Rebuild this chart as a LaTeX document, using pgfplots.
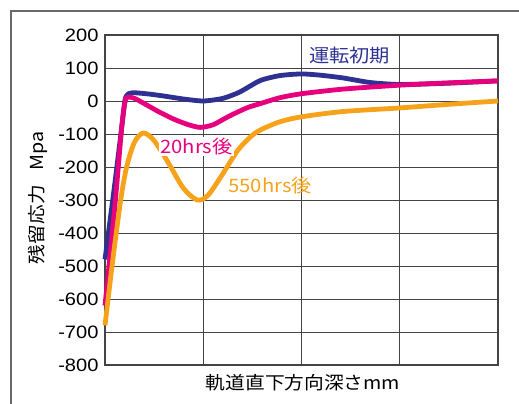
\documentclass[border=0pt]{standalone}
\usepackage{fontspec}
\usepackage{pgfplots}
\pgfplotsset{compat=1.18}
\setmainfont{Liberation Sans}[FakeStretch=1.12]
\newfontfamily\jp{Noto Sans CJK JP}[FakeStretch=1.1]
\definecolor{navyc}{HTML}{2E3192}
\definecolor{pinkc}{HTML}{E6007E}
\definecolor{orangec}{HTML}{F7A21B}
\definecolor{gridc}{HTML}{444444}
\begin{document}
\begin{tikzpicture}[x=1bp,y=1bp]
\useasboundingbox (-105,-38) rectangle (414,365);
\draw[gridc!80,line width=1.3bp] (-94,-60) -- (-94,354) -- (440,354);
\begin{axis}[
  at={(0,0)}, anchor=south west,
  scale only axis, width=393bp, height=330bp,
  xmin=0, xmax=4, ymin=-800, ymax=200,
  xtick={1,2,3}, xticklabels={},
  ytick={-800,-700,...,200},
  major tick length=0pt,
  grid=major,
  major grid style={gridc, line width=0.9bp},
  axis line style={gridc, line width=1.1bp},
  tick label style={font=\fontsize{18}{20}\selectfont, text=black},
  /pgf/number format/assume math mode=true,
  yticklabel style={xshift=-3bp},
  clip=false,
]
\addplot[navyc, line width=4.8bp, smooth, tension=0.4] coordinates {
(0,-480) (0.10,-250) (0.17,-80) (0.205,5) (0.24,22) (0.30,25) (0.45,21) (0.6,15) (0.8,6) (1.0,0) (1.2,8) (1.37,27) (1.58,62) (1.78,77) (2.0,82) (2.2,78) (2.42,70) (2.7,56) (3.0,50) (3.5,54) (4.0,61)
};
\addplot[pinkc, line width=4.8bp, smooth, tension=0.4] coordinates {
(0,-620) (0.1,-320) (0.17,-80) (0.205,0) (0.235,12) (0.3,8) (0.4,-8) (0.55,-33) (0.7,-55) (0.85,-72) (0.97,-80) (1.1,-72) (1.27,-45) (1.45,-20) (1.58,-8) (1.78,10) (2.0,22) (2.42,36) (3.0,48) (3.5,55) (4.0,61)
};
\addplot[orangec, line width=4.8bp, smooth, tension=0.5] coordinates {
(0,-680) (0.08,-480) (0.16,-300) (0.22,-200) (0.3,-125) (0.39,-97) (0.5,-120) (0.65,-190) (0.8,-265) (0.94,-300) (1.05,-285) (1.2,-220) (1.35,-150) (1.48,-109) (1.58,-88) (1.78,-63) (2.0,-48) (2.42,-32) (3.0,-21) (3.5,-10) (4.0,0)
};
\node[text=navyc, font=\jp\fontsize{18.5}{20}\selectfont] at (axis cs:2.49,139) {運転初期};
\node[text=pinkc, fill=white, inner sep=1bp, font=\jp\fontsize{18.5}{20}\selectfont] at (axis cs:0.93,-139) {20hrs後};
\node[text=orangec, font=\jp\fontsize{18.5}{20}\selectfont] at (axis cs:1.68,-255) {550hrs後};
\end{axis}
\node[rotate=90, font=\jp\fontsize{18}{20}\selectfont] at (-67,167) {残留応力\hspace{0.8em}Mpa};
\node[font=\jp\fontsize{18}{20}\selectfont] at (198,-18) {軌道直下方向深さmm};
\end{tikzpicture}
\end{document}
